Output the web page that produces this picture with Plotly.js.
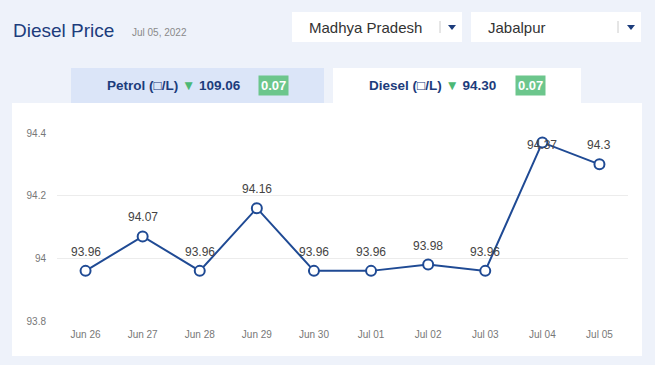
<!DOCTYPE html>
<html><head><meta charset="utf-8">
<script src="https://cdn.plot.ly/plotly-3.0.1.min.js"></script>
<style>html,body{margin:0;padding:0;background:#eef2fa;}#chart{width:655px;height:365px;}</style>
</head><body><div id="chart"></div>
<script>
const dates = ["Jun 26","Jun 27","Jun 28","Jun 29","Jun 30","Jul 01","Jul 02","Jul 03","Jul 04","Jul 05"];
const dieselPrices = [93.96,94.07,93.96,94.16,93.96,93.96,93.98,93.96,94.37,94.3];
const yTicks = [93.8,94,94.2,94.4];
const pageTitle = "Diesel Price";
const pageDate = "Jul 05, 2022";
const stateName = "Madhya Pradesh";
const cityName = "Jabalpur";
const petrolPrice = "109.06", petrolChange = "0.07";
const dieselPrice = "94.30", dieselChange = "0.07";

// pixel -> paper helpers (plot area: x 57..628, y 133..321)
const L=57,R=628,T=133,B=321;
const yMin=93.8, yMax=94.4;
const px = x => (x-L)/(R-L);
const py = y => (B-y)/(B-T);
const font = "Arial, 'Liberation Sans', sans-serif";
const navy = "#1c3c7c";

const shapes = [
  {type:'rect',xref:'paper',yref:'paper',x0:px(12),x1:px(642),y0:py(356),y1:py(103),fillcolor:'#ffffff',line:{width:0},layer:'below'},
  {type:'rect',xref:'paper',yref:'paper',x0:px(71),x1:px(324),y0:py(103),y1:py(68),fillcolor:'#dbe5f8',line:{width:0},layer:'below'},
  {type:'rect',xref:'paper',yref:'paper',x0:px(333),x1:px(581),y0:py(103),y1:py(68),fillcolor:'#ffffff',line:{width:0},layer:'below'},
  {type:'rect',xref:'paper',yref:'paper',x0:px(292),x1:px(462),y0:py(42),y1:py(12),fillcolor:'#ffffff',line:{width:0},layer:'below'},
  {type:'rect',xref:'paper',yref:'paper',x0:px(471),x1:px(641),y0:py(42),y1:py(12),fillcolor:'#ffffff',line:{width:0},layer:'below'},
  {type:'line',xref:'paper',yref:'paper',x0:px(440),x1:px(440),y0:py(33),y1:py(21),line:{color:'#cccccc',width:1}},
  {type:'line',xref:'paper',yref:'paper',x0:px(618),x1:px(618),y0:py(33),y1:py(21),line:{color:'#cccccc',width:1}},
  {type:'path',xref:'paper',yref:'paper',path:`M ${px(448)} ${py(25)} L ${px(456)} ${py(25)} L ${px(452)} ${py(30)} Z`,fillcolor:'#1c3c7c',line:{width:0}},
  {type:'path',xref:'paper',yref:'paper',path:`M ${px(627)} ${py(25)} L ${px(635)} ${py(25)} L ${px(631)} ${py(30)} Z`,fillcolor:'#1c3c7c',line:{width:0}}
];

const ann = (x,y,text,opts) => Object.assign({xref:'paper',yref:'paper',x:px(x),y:py(y),text:text,showarrow:false,xanchor:'left',yanchor:'middle'},opts);
const tri = "<span style='color:#4cb875'>▼</span>";
const annotations = [
  ann(11,31,pageTitle,{font:{family:font,size:19,color:navy}}),
  ann(130,32,pageDate,{font:{family:font,size:10,color:'#8a8a8a'}}),
  ann(307,27,stateName,{font:{family:font,size:15,color:'#333333'}}),
  ann(486,27,cityName,{font:{family:font,size:15,color:'#333333'}}),
  ann(105,85,"<b>Petrol (□/L)</b> "+tri+" <b>"+petrolPrice+"</b>",{font:{family:font,size:13.5,color:navy}}),
  ann(273,85,"<b>"+petrolChange+"</b>",{xanchor:'center',bgcolor:'#6cc68c',borderpad:2,font:{family:font,size:13,color:'#ffffff'}}),
  ann(367,85,"<b>Diesel (□/L)</b> "+tri+" <b>"+dieselPrice+"</b>",{font:{family:font,size:13.5,color:navy}}),
  ann(530,85,"<b>"+dieselChange+"</b>",{xanchor:'center',bgcolor:'#6cc68c',borderpad:2,font:{family:font,size:13,color:'#ffffff'}})
];

// value labels above each point (kept inside the plot top like the original)
dates.forEach((d,i)=>{
  const v = dieselPrices[i];
  const ptY = B - (v-yMin)/(yMax-yMin)*(B-T);
  const labY = Math.max(ptY-19, 145);
  annotations.push({xref:'x',yref:'y',x:d,y:v,text:String(v),showarrow:false,
    xanchor:'center',yanchor:'middle',yshift:ptY-labY,
    font:{family:font,size:12,color:'#444444'}});
});

const trace = {
  x: dates, y: dieselPrices, type:'scatter', mode:'lines+markers',
  line:{color:'#1f4a94',width:2},
  marker:{size:10,color:'#ffffff',line:{color:'#1f4a94',width:2}},
  hoverinfo:'none', cliponaxis:false
};

const layout = {
  width:655,height:365,
  margin:{l:L,r:655-R,t:T,b:365-B,pad:0},
  paper_bgcolor:'#eef2fa', plot_bgcolor:'rgba(0,0,0,0)',
  showlegend:false,
  xaxis:{type:'category',range:[-0.5,9.5],showgrid:false,zeroline:false,showline:false,
         tickfont:{family:font,size:10,color:'#777777'},ticks:'',ticklabelstandoff:6,fixedrange:true},
  yaxis:{range:[yMin,yMax],tickvals:yTicks,ticktext:yTicks.map(String),showgrid:true,gridcolor:'#ececec',
         zeroline:false,showline:false,tickfont:{family:font,size:10,color:'#777777'},ticks:'',ticklabelstandoff:10,fixedrange:true},
  shapes:shapes, annotations:annotations
};
Plotly.newPlot('chart',[trace],layout,{displayModeBar:false,staticPlot:true});
</script></body></html>
